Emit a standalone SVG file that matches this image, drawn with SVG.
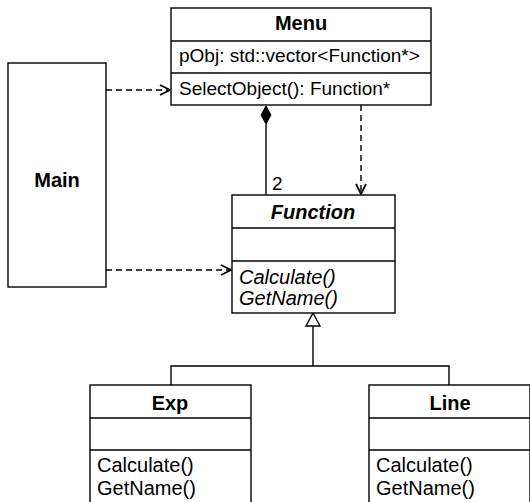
<svg xmlns="http://www.w3.org/2000/svg" width="530" height="502" viewBox="0 0 530 502">
<style>
.box{fill:#fff;stroke:#000;stroke-width:1.4}
.sep{stroke:#000;stroke-width:1.4}
.t{font-family:"Liberation Sans",Arial,sans-serif;font-size:19px;fill:#000}
.m{font-size:20px}
.b{font-weight:bold;font-size:20px}
.i{font-style:italic}
.c{text-anchor:middle}
.dash{fill:none;stroke:#000;stroke-width:1.4;stroke-dasharray:6,4}
.solid{fill:none;stroke:#000;stroke-width:1.4}
</style>
<defs>
<marker id="open" viewBox="0 0 12 12" refX="11" refY="6" markerWidth="12" markerHeight="12" markerUnits="userSpaceOnUse" orient="auto">
<path d="M1,1 L11,6 L1,11" fill="none" stroke="#000" stroke-width="1.8"/>
</marker>
</defs>
<rect width="530" height="502" fill="#fff"/>
<g id="connectors">
<line class="dash" x1="106" y1="90" x2="170" y2="90" marker-end="url(#open)"/>
<line class="dash" x1="106" y1="270" x2="231" y2="270" marker-end="url(#open)"/>
<line class="dash" x1="361" y1="105" x2="361" y2="194" marker-end="url(#open)"/>
<line class="solid" x1="266" y1="124" x2="266" y2="195"/>
<path d="M266,106 L271,115 L266,124 L261,115 Z" fill="#000" stroke="#000"/>
<text class="t" x="272" y="190">2</text>
<path d="M313,313 L320,326 L306,326 Z" fill="#fff" stroke="#000" stroke-width="1.4"/>
<polyline class="solid" points="313,326 313,366"/>
<polyline class="solid" points="171,385 171,366 449,366 449,385"/>
</g>
<g id="Main">
<rect class="box" x="8" y="63" width="98" height="224"/>
<text class="t b c" x="57" y="187">Main</text>
</g>
<g id="Menu">
<rect class="box" x="171" y="8" width="260" height="97"/>
<line class="sep" x1="171" y1="41" x2="431" y2="41"/>
<line class="sep" x1="171" y1="73" x2="431" y2="73"/>
<text class="t b c" x="301" y="30">Menu</text>
<text class="t" x="179" y="62">pObj: std::vector&lt;Function*&gt;</text>
<text class="t" x="179" y="95">SelectObject(): Function*</text>
</g>
<g id="Function">
<rect class="box" x="232" y="195" width="163" height="118"/>
<line class="sep" x1="232" y1="228" x2="395" y2="228"/>
<line class="sep" x1="232" y1="261" x2="395" y2="261"/>
<text class="t b i c" x="313" y="219">Function</text>
<text class="t m i" x="239" y="284">Calculate()</text>
<text class="t m i" x="239" y="305">GetName()</text>
</g>
<g id="Exp">
<rect class="box" x="90" y="385" width="161" height="130"/>
<line class="sep" x1="90" y1="418" x2="251" y2="418"/>
<line class="sep" x1="90" y1="450" x2="251" y2="450"/>
<text class="t b c" x="170" y="410">Exp</text>
<text class="t m" x="97" y="472">Calculate()</text>
<text class="t m" x="97" y="495">GetName()</text>
</g>
<g id="Line">
<rect class="box" x="369" y="385" width="161" height="130"/>
<line class="sep" x1="369" y1="418" x2="530" y2="418"/>
<line class="sep" x1="369" y1="450" x2="530" y2="450"/>
<text class="t b c" x="450" y="410">Line</text>
<text class="t m" x="376" y="472">Calculate()</text>
<text class="t m" x="376" y="495">GetName()</text>
</g>
</svg>
